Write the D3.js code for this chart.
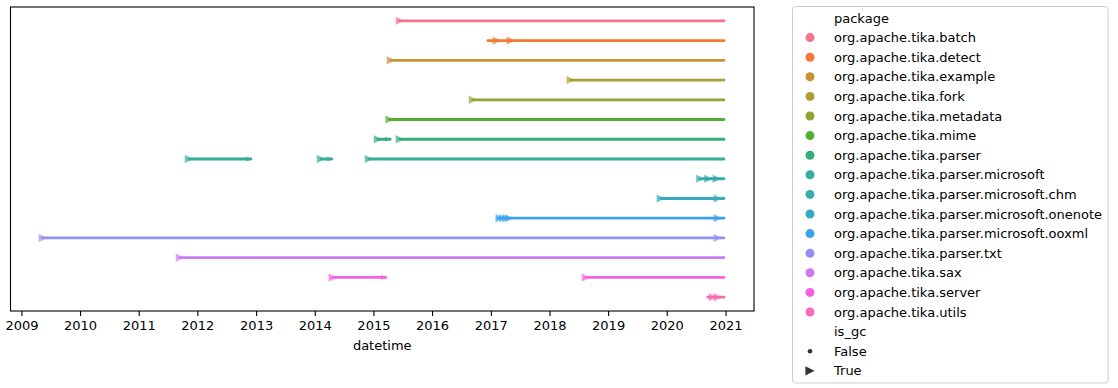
<!DOCTYPE html>
<html>
<head>
<meta charset="utf-8">
<script src="https://cdn.jsdelivr.net/npm/d3@7"></script>
<style>
  html, body { margin: 0; padding: 0; background: #fff; }
  svg { display: block; font-family: "DejaVu Sans", sans-serif; }
</style>
</head>
<body>
<svg id="chart" width="1118" height="388"></svg>
<script>
// ---------------- DATA ----------------
const packages = [
  "org.apache.tika.batch",
  "org.apache.tika.detect",
  "org.apache.tika.example",
  "org.apache.tika.fork",
  "org.apache.tika.metadata",
  "org.apache.tika.mime",
  "org.apache.tika.parser",
  "org.apache.tika.parser.microsoft",
  "org.apache.tika.parser.microsoft.chm",
  "org.apache.tika.parser.microsoft.onenote",
  "org.apache.tika.parser.microsoft.ooxml",
  "org.apache.tika.parser.txt",
  "org.apache.tika.sax",
  "org.apache.tika.server",
  "org.apache.tika.utils"
];

// continuous runs of is_gc = False observations: [package, first date, last date]
const falseRuns = [
  ["org.apache.tika.batch", "2015-06-12", "2020-12-22"],
  ["org.apache.tika.detect", "2016-12-13", "2020-12-22"],
  ["org.apache.tika.example", "2015-04-20", "2020-12-22"],
  ["org.apache.tika.fork", "2018-05-13", "2020-12-22"],
  ["org.apache.tika.metadata", "2016-09-12", "2020-12-22"],
  ["org.apache.tika.mime", "2015-04-12", "2020-12-22"],
  ["org.apache.tika.parser", "2015-01-29", "2015-04-15"],
  ["org.apache.tika.parser", "2015-06-15", "2020-12-22"],
  ["org.apache.tika.parser.microsoft", "2011-11-10", "2012-11-30"],
  ["org.apache.tika.parser.microsoft", "2014-02-09", "2014-04-17"],
  ["org.apache.tika.parser.microsoft", "2014-12-04", "2020-12-22"],
  ["org.apache.tika.parser.microsoft.chm", "2020-07-26", "2020-12-22"],
  ["org.apache.tika.parser.microsoft.onenote", "2019-11-25", "2020-12-22"],
  ["org.apache.tika.parser.microsoft.ooxml", "2017-02-14", "2020-12-22"],
  ["org.apache.tika.parser.txt", "2009-05-15", "2020-12-22"],
  ["org.apache.tika.sax", "2011-09-15", "2020-12-22"],
  ["org.apache.tika.server", "2014-04-23", "2015-03-19"],
  ["org.apache.tika.server", "2018-08-16", "2020-12-22"],
  ["org.apache.tika.utils", "2020-09-12", "2020-12-22"]
];

// is_gc = True observations: [package, date]
const trueEvents = [
  ["org.apache.tika.batch", "2015-06-15"],
  ["org.apache.tika.detect", "2017-02-08"],
  ["org.apache.tika.detect", "2017-05-06"],
  ["org.apache.tika.example", "2015-04-20"],
  ["org.apache.tika.fork", "2018-05-13"],
  ["org.apache.tika.metadata", "2016-09-12"],
  ["org.apache.tika.mime", "2015-04-12"],
  ["org.apache.tika.parser", "2015-01-29"],
  ["org.apache.tika.parser", "2015-06-15"],
  ["org.apache.tika.parser.microsoft", "2011-11-10"],
  ["org.apache.tika.parser.microsoft", "2014-02-09"],
  ["org.apache.tika.parser.microsoft", "2014-12-04"],
  ["org.apache.tika.parser.microsoft.chm", "2020-07-28"],
  ["org.apache.tika.parser.microsoft.chm", "2020-09-16"],
  ["org.apache.tika.parser.microsoft.chm", "2020-11-08"],
  ["org.apache.tika.parser.microsoft.onenote", "2019-11-25"],
  ["org.apache.tika.parser.microsoft.onenote", "2020-11-14"],
  ["org.apache.tika.parser.microsoft.ooxml", "2017-02-25"],
  ["org.apache.tika.parser.microsoft.ooxml", "2017-03-20"],
  ["org.apache.tika.parser.microsoft.ooxml", "2017-04-08"],
  ["org.apache.tika.parser.microsoft.ooxml", "2017-04-25"],
  ["org.apache.tika.parser.microsoft.ooxml", "2020-11-14"],
  ["org.apache.tika.parser.txt", "2009-05-15"],
  ["org.apache.tika.parser.txt", "2020-11-14"],
  ["org.apache.tika.sax", "2011-09-15"],
  ["org.apache.tika.server", "2014-04-23"],
  ["org.apache.tika.server", "2018-08-16"],
  ["org.apache.tika.utils", "2020-10-15"],
  ["org.apache.tika.utils", "2020-11-14"]
];

// True observations mostly hidden under later False points (visible as small heads)
const coveredTrueEvents = [
  ["org.apache.tika.parser", "2015-04-01"],
  ["org.apache.tika.parser.microsoft", "2012-11-18"],
  ["org.apache.tika.parser.microsoft", "2014-04-05"],
  ["org.apache.tika.server", "2015-03-08"]
];

const xDomain = ["2008-10-25", "2021-06-27"];
const xLabel = "datetime";
const legendHueTitle = "package";
const legendStyleTitle = "is_gc";
const styleLevels = ["False", "True"];

// ---------------- HUSL palette (seaborn husl_palette) ----------------
const M = [[3.2406, -1.5372, -0.4986], [-0.9689, 1.8758, 0.0415], [0.0557, -0.2040, 1.0570]];
const refU = 0.19784, refV = 0.46834, labE = 0.008856, labK = 903.3;
function maxChroma(L, H) {
  const hr = H * Math.PI / 180, sinH = Math.sin(hr), cosH = Math.cos(hr);
  const sub1 = Math.pow(L + 16, 3) / 1560896;
  const sub2 = sub1 > 0.008856 ? sub1 : L / 903.3;
  let res = Infinity;
  for (const [m1, m2, m3] of M) {
    const top = (0.99915 * m1 + 1.05122 * m2 + 1.14460 * m3) * sub2;
    const rb = 0.86330 * m3 - 0.17266 * m2, lb = 0.12949 * m3 - 0.38848 * m1;
    const bottom = (rb * sinH + lb * cosH) * sub2;
    for (const t of [0, 1]) {
      const C = L * (top - 1.05122 * t) / (bottom + 0.17266 * sinH * t);
      if (C > 0 && C < res) res = C;
    }
  }
  return res;
}
function fInv(t) { return t * t * t > labE ? t * t * t : (116 * t - 16) / labK; }
function fromLinear(c) { return c <= 0.0031308 ? 12.92 * c : 1.055 * Math.pow(c, 1 / 2.4) - 0.055; }
function huslToRgb(H, S, L) {
  const C = maxChroma(L, H) / 100 * S;
  const hr = H * Math.PI / 180;
  const U = Math.cos(hr) * C, V = Math.sin(hr) * C;
  const Y = fInv((L + 16) / 116);
  const varU = U / (13 * L) + refU, varV = V / (13 * L) + refV;
  const X = -(9 * Y * varU) / ((varU - 4) * varV - varU * varV);
  const Z = (9 * Y - 15 * varV * Y - varV * X) / (3 * varV);
  const rgb = M.map(r => Math.min(1, Math.max(0, fromLinear(r[0] * X + r[1] * Y + r[2] * Z))));
  return d3.rgb(rgb[0] * 255, rgb[1] * 255, rgb[2] * 255).formatHex();
}
const n = packages.length;
const palette = d3.range(n).map(i => huslToRgb((((i / n) + 0.01) % 1) * 359, 0.9 * 99, 0.65 * 99));
const color = d3.scaleOrdinal().domain(packages).range(palette);

// ---------------- CHART ----------------
const svg = d3.select("#chart");
const plot = { left: 10.5, right: 754, top: 7, bottom: 311 };
const parse = d3.utcParse("%Y-%m-%d");

const x = d3.scaleUtc().domain(xDomain.map(parse)).range([plot.left, plot.right]);
const y = d3.scalePoint().domain(packages).range([plot.top, plot.bottom]).padding(0.7);

const tri = h => `M${-h},${-h}L${h},0L${-h},${h}Z`;

const g = svg.append("g");

g.selectAll("path.gc").data(trueEvents).join("path")
  .attr("class", "gc")
  .attr("d", tri(4.3))
  .attr("transform", d => `translate(${x(parse(d[1]))},${y(d[0])})`)
  .attr("fill", d => color(d[0]))
  .attr("fill-opacity", 0.72)
  .attr("stroke", "#fff").attr("stroke-opacity", 0.5).attr("stroke-width", 0.5);

g.selectAll("line.run").data(falseRuns).join("line")
  .attr("class", "run")
  .attr("x1", d => x(parse(d[1]))).attr("x2", d => x(parse(d[2])))
  .attr("y1", d => y(d[0])).attr("y2", d => y(d[0]))
  .attr("stroke", d => color(d[0]))
  .attr("stroke-width", 2.8)
  .attr("stroke-linecap", "round");

g.selectAll("path.cov").data(coveredTrueEvents).join("path")
  .attr("class", "cov")
  .attr("d", tri(2.6))
  .attr("transform", d => `translate(${x(parse(d[1]))},${y(d[0])})`)
  .attr("fill", d => color(d[0]))
  .attr("fill-opacity", 0.85);

svg.append("rect")
  .attr("x", plot.left).attr("y", plot.top)
  .attr("width", plot.right - plot.left).attr("height", plot.bottom - plot.top)
  .attr("fill", "none").attr("stroke", "#000").attr("stroke-width", 1.1);

const xAxis = d3.axisBottom(x).ticks(d3.utcYear.every(1)).tickFormat(d3.utcFormat("%Y"))
  .tickSize(4.9).tickPadding(5);
const ax = svg.append("g").attr("transform", `translate(0,${plot.bottom})`).call(xAxis);
ax.select(".domain").remove();
ax.selectAll(".tick line").attr("stroke", "#000").attr("stroke-width", 1.1);
ax.selectAll(".tick text").attr("font-size", 13).attr("fill", "#000")
  .attr("font-family", "DejaVu Sans");

svg.append("text")
  .attr("x", (plot.left + plot.right) / 2).attr("y", 350)
  .attr("text-anchor", "middle").attr("font-size", 13).attr("fill", "#000")
  .text(xLabel);

// ---------------- LEGEND ----------------
const lg = svg.append("g");
const box = lg.append("rect")
  .attr("x", 792.5).attr("y", 6.5).attr("height", 376.5)
  .attr("rx", 3).attr("fill", "#fff").attr("fill-opacity", 0.8)
  .attr("stroke", "#cccccc").attr("stroke-width", 1);

const rowY = i => 18 + i * 19.6;
const mx = 810, tx = 834;
const legendRows = [{ type: "title", label: legendHueTitle }]
  .concat(packages.map(p => ({ type: "hue", label: p })))
  .concat([{ type: "title", label: legendStyleTitle }])
  .concat(styleLevels.map(s => ({ type: "style", label: s })));

let maxW = 0;
legendRows.forEach((r, i) => {
  const cy = rowY(i);
  if (r.type === "hue") {
    lg.append("circle").attr("cx", mx).attr("cy", cy).attr("r", 4.5).attr("fill", color(r.label));
  } else if (r.type === "style") {
    if (r.label === "False") {
      lg.append("circle").attr("cx", mx).attr("cy", cy).attr("r", 2.3).attr("fill", "#333333");
    } else {
      lg.append("path").attr("d", tri(4.6)).attr("transform", `translate(${mx},${cy})`).attr("fill", "#333333");
    }
  }
  const t = lg.append("text").attr("x", tx).attr("y", cy).attr("dy", "0.36em")
    .attr("font-size", 13).attr("fill", "#000").text(r.label);
  maxW = Math.max(maxW, t.node().getComputedTextLength());
});
box.attr("width", tx + maxW + 6 - 792.5);
</script>
</body>
</html>
